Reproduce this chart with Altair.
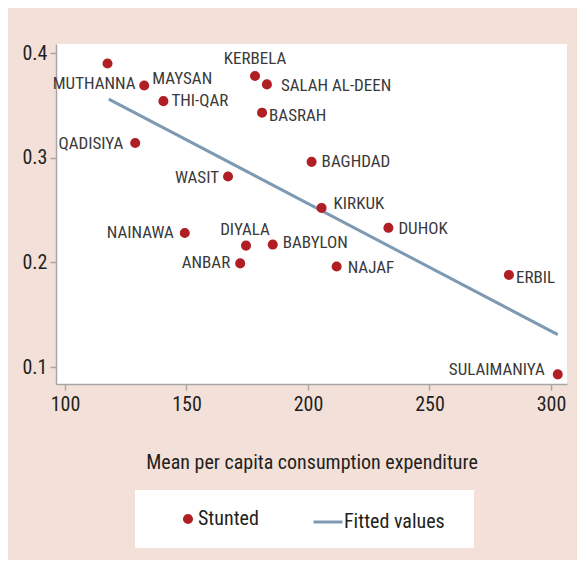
import altair as alt
import pandas as pd

# ---- data ----
regions = ["MUTHANNA", "MAYSAN", "THI-QAR", "KERBELA", "SALAH AL-DEEN", "BASRAH",
           "QADISIYA", "WASIT", "NAINAWA", "DIYALA", "BABYLON", "ANBAR",
           "BAGHDAD", "KIRKUK", "DUHOK", "NAJAF", "ERBIL", "SULAIMANIYA"]
expenditure = [117.5, 132.6, 140.5, 178.2, 183.1, 181.1,
               128.9, 167.1, 149.3, 174.5, 185.5, 172.1,
               201.5, 205.6, 233.1, 211.8, 282.7, 302.8]
stunted = [0.390, 0.369, 0.354, 0.378, 0.370, 0.343,
           0.314, 0.282, 0.228, 0.216, 0.217, 0.199,
           0.296, 0.252, 0.233, 0.196, 0.188, 0.093]

fit_x = [118.0, 302.8]
fit_y = [0.356, 0.131]

x_ticks = [100, 150, 200, 250, 300]
y_ticks = [0.1, 0.2, 0.3, 0.4]
series_names = ["Stunted", "Fitted values"]

# label placement (style): alignment and pixel offsets
label_align = ["right", "left", "left", "center", "left", "left",
               "right", "right", "right", "center", "left", "right",
               "left", "left", "left", "left", "left", "right"]
label_dx = [28, 8, 8, 0, 14, 7, -12, -9, -11, -1, 10, -10, 10, 12, 10, 11, 7, -13]
label_dy = [21, -6, 0, -17, 2, 3, 1, 1, 0, -16, -2, 0, 0, -4, 1, 1, 3, -4]

RED = "#B01F24"
BLUE = "#7E9AB3"
PINK = "#F3E1D9"
GREY = "#A6A6A6"
TXT = "#231F20"
LBL = "#3A3A3A"
FONT = "Liberation Sans Narrow, Roboto Condensed, DejaVu Sans Condensed, sans-serif"

pts = pd.DataFrame({"region": regions, "x": expenditure, "y": stunted,
                    "series": series_names[0]})
fit = pd.DataFrame({"x": fit_x, "y": fit_y, "series": series_names[1]})

xs = alt.Scale(domain=[96.3, 306.6], nice=False, zero=False)
ys = alt.Scale(domain=[0.0838, 0.4086], nice=False, zero=False)

X = alt.X("x:Q", scale=xs, title="Mean per capita consumption expenditure",
          axis=alt.Axis(values=x_ticks, format="d", grid=False, tickSize=6,
                        labelPadding=4, titlePadding=38))
Y = alt.Y("y:Q", scale=ys, title=None,
          axis=alt.Axis(values=y_ticks, format=".1f", grid=False, tickSize=6,
                        labelPadding=3))

BLANK = "\u2800"
legend = alt.Legend(
    orient="none", legendX=79, legendY=446, direction="horizontal",
    title=BLANK, titleOrient="left", titleFontSize=8, titlePadding=21,
    fillColor="white", padding=16, labelOffset=0, columnPadding=48,
    labelFontSize=20, labelFont=FONT, labelColor=TXT, symbolStrokeWidth=3,
    symbolOpacity=1, labelLimit=400,
    labelExpr="datum.label == 'Fitted values' ? datum.label + '" + BLANK + "' : datum.label",
)

color_enc = alt.Color("series:N", scale=alt.Scale(domain=series_names, range=[RED, BLUE]),
                      legend=legend, title=BLANK)
stroke_enc = alt.Stroke("series:N", scale=alt.Scale(domain=series_names, range=[RED, BLUE]),
                        legend=legend, title=BLANK)
shape_enc = alt.Shape("series:N", scale=alt.Scale(domain=series_names, range=["circle", "stroke"]),
                      legend=legend, title=BLANK)
size_enc = alt.Size("series:N", scale=alt.Scale(domain=series_names, range=[50, 840]),
                    legend=legend, title=BLANK)

line = alt.Chart(fit).mark_line(strokeWidth=3).encode(x=X, y=Y, color=color_enc)

dots = alt.Chart(pts).mark_point(filled=True, opacity=1, strokeWidth=3).encode(
    x=X, y=Y, color=color_enc, stroke=stroke_enc, shape=shape_enc, size=size_enc
)

label_layers = []
for name, al, dx, dy in zip(regions, label_align, label_dx, label_dy):
    label_layers.append(
        alt.Chart(pts).transform_filter(alt.datum.region == name).mark_text(
            align=al, baseline="middle", fontSize=17, font=FONT, color=LBL, dx=dx, dy=dy
        ).encode(x=X, y=Y, text="region:N")
    )

chart = alt.layer(line, dots, *label_layers).properties(
    width=511, height=340,
    autosize=alt.AutoSizeParams(type="none"),
    padding={"left": 48, "top": 36, "right": 10, "bottom": 176},
    background=PINK,
).configure_view(fill="white", stroke=None).configure_axis(
    labelFont=FONT, titleFont=FONT, labelFontSize=20, titleFontSize=20,
    titleFontWeight="normal", labelColor=TXT, titleColor=TXT,
    domainColor=GREY, tickColor=GREY, domainWidth=1.5, tickWidth=1.5,
)

chart.save("out.html", embed_options={"renderer": "svg", "actions": False})
